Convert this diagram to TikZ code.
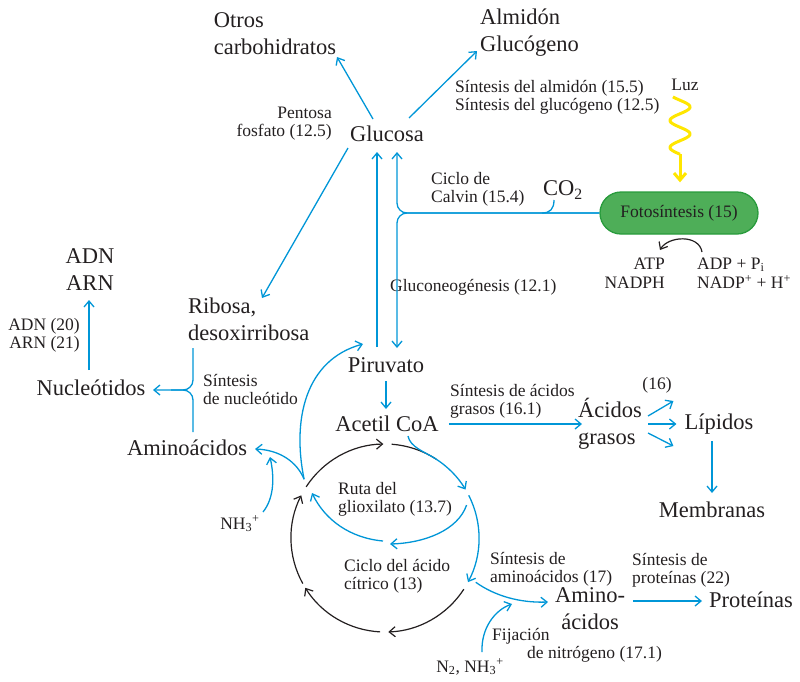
\documentclass[tikz,border=0pt]{standalone}
\usepackage{fontspec}
\setmainfont{Liberation Serif}
\usetikzlibrary{calc,arrows.meta,shapes.misc}
\definecolor{bl}{RGB}{0,150,215}
\definecolor{tx}{RGB}{35,31,32}
\definecolor{yl}{RGB}{255,230,0}
\definecolor{gfill}{RGB}{78,174,88}
\definecolor{glight}{RGB}{165,218,160}
\definecolor{gedge}{RGB}{40,155,60}
\begin{document}
\begin{tikzpicture}[x=1pt,y=-1pt,
  big/.style={font=\fontsize{22.5}{27}\selectfont, inner sep=0pt, text=tx},
  sm/.style={font=\fontsize{17.5}{18}\selectfont, inner sep=0pt, text=tx},
  smw/.style={font=\fontsize{17.5}{19.5}\selectfont, inner sep=0pt, text=tx},
  bar/.style={draw=bl, line width=1.3pt, -{Straight Barb[length=6pt,width=10pt]}},
  bline/.style={draw=bl, line width=1.3pt},
  karc/.style={draw=tx, line width=1.2pt},
  karr/.style={karc, -{Straight Barb[length=6pt,width=10pt]}},
]
\useasboundingbox (0,0) rectangle (800,681);
\coordinate (C) at (385,538);
% nodes
\node[big, align=left] (otros) at (275,34) {Otros\\carbohidratos};
\node[big, align=left, anchor=west] (almidon) at (480,33) {Almidón\\Glucógeno};
\node[sm, align=left, anchor=west] (sintalm) at (455,97) {Síntesis del almidón (15.5)\\Síntesis del glucógeno (12.5)};
\node[sm] (luz) at (685,85) {Luz};
\node[sm, align=right, anchor=east] (pentosa) at (332,124) {Pentosa\\fosfato (12.5)};
\node[big] (gluc) at (387,134) {Glucosa};
\node[sm, align=left, anchor=west] (calvin) at (431,189) {Ciclo de\\Calvin (15.4)};
\node[big] (co2) at (563,190) {CO\textsubscript{2}};
\node[sm, rounded rectangle, minimum width=158pt, minimum height=42pt, draw=gedge, line width=1.3pt, left color=gfill, middle color=glight, right color=gfill] (foto) at (679,213) {Fotosíntesis (15)};
\node[smw, align=right, anchor=east] (atp) at (665,273) {ATP\\NADPH};
\node[smw, align=left, anchor=west] (adp) at (697,273) {ADP + P\textsubscript{i}\\NADP\textsuperscript{+} + H\textsuperscript{+}};
\node[sm, anchor=west] (gneo) at (390,287) {Gluconeogénesis (12.1)};
\node[big, align=center] (adnarn) at (90,270) {ADN\\ARN};
\node[sm, align=right, anchor=east] (adn20) at (80,335) {ADN (20)\\ARN (21)};
\node[big] (nucleo) at (91,388) {Nucleótidos};
\node[big, align=left, anchor=west] (ribosa) at (188,319) {Ribosa,\\desoxirribosa};
\node[sm, align=left, anchor=west] (sintnuc) at (203,389) {Síntesis\\de nucleótido};
\node[big] (aminoL) at (187,448) {Aminoácidos};
\node[sm] (nh3L) at (240,524) {NH\textsubscript{3}\textsuperscript{+}};
\node[big] (piruv) at (386,365) {Piruvato};
\node[big] (acetil) at (387,424) {Acetil CoA};
\node[sm, align=left, anchor=west] (sintac) at (450,401) {Síntesis de ácidos\\grasos (16.1)};
\node[big, align=left, anchor=west] (acidos) at (578,424) {Ácidos\\grasos};
\node[sm] (n16) at (657,385) {(16)};
\node[big] (lipidos) at (719,424) {Lípidos};
\node[big] (membr) at (712,510) {Membranas};
\node[sm, align=left, anchor=west] (ruta) at (338,499) {Ruta del\\glioxilato (13.7)};
\node[sm, align=left, anchor=west] (ciclo) at (344,576) {Ciclo del ácido\\cítrico (13)};
\node[sm, align=left, anchor=west] (sintam) at (490,569) {Síntesis de\\aminoácidos (17)};
\node[big, align=center] (aminoR) at (590,609) {Amino-\\ácidos};
\node[sm, align=left, anchor=west] (sintprot) at (632,570) {Síntesis de\\proteínas (22)};
\node[big] (prot) at (751,600) {Proteínas};
\node[sm, align=left, anchor=west] (fija) at (492,645) {Fijación\\\hspace*{35pt}de nitrógeno (17.1)};
\node[sm] (n2) at (470,667) {N\textsubscript{2}, NH\textsubscript{3}\textsuperscript{+}};
% glucose connectors
\draw[bar] ($(gluc)+(-14,-15)$) -- ($(otros)+(62,23)$);
\draw[bar] ($(gluc)+(22,-16)$) -- ($(almidon.west)+(-3,18)$);
\draw[bar] ($(gluc)+(-39,14)$) -- ($(ribosa.west)+(74,-21)$);
\draw[bar] ($(piruv)+(-9,-18)$) -- ($(gluc)+(-10,18)$);
\draw[bar, rounded corners=10pt] (foto.west) -| ($(gluc)+(10,18)$);
\draw[bar, rounded corners=10pt] (foto.west) -| ($(piruv)+(11,-17)$);
\draw[bline] ($(co2)+(-9,10)$) .. controls +(0,9) and +(8,0) .. ($(co2)+(-21,23)$);
% light
\draw[yl, line width=3pt] plot[domain=-45:720, samples=90] ({680+10*sin(\x)}, {107+(\x-90)*0.075});
\draw[yl, line width=3pt, -{Straight Barb[length=7pt,width=12pt]}] (680,154) -- ($(foto.north)+(1,-9)$);
% ATP
\draw[karr] ($(foto)+(23,39)$) .. controls +(-3,-18) and +(8,-14) .. ($(foto)+(-19,37)$);
% nucleotides
\draw[bar] ($(nucleo)+(-2,-18)$) -- ($(adnarn)+(-1,30)$);
\draw[bar, rounded corners=10pt] ($(ribosa.west)+(5,29)$) |- ($(nucleo)+(62,2)$);
\draw[bline, rounded corners=10pt] ($(aminoL)+(6,-16)$) |- ($(nucleo)+(80,2)$);
% junction
\coordinate (jn) at ($(C)+(144:100pt)$);
\draw[bar] (jn) .. controls (297,462) and (280,450) .. ($(aminoL)+(68,1)$);
\draw[bar] ($(nh3L)+(23,-12)$) .. controls +(12,-15) and +(4,18) .. ($(aminoL)+(83,9)$);
\draw[bar] (jn) .. controls (292,420) and (305,360) .. ($(piruv)+(-23,-21)$);
\draw[bar] ($(piruv)+(0,16)$) -- ($(acetil)+(-1,-15)$);
\draw[bar] ($(acetil.east)+(10,0)$) -- ($(acidos.west)+(4,0)$);
\draw[bar] ($(acidos.west)+(70,-8)$) -- ($(lipidos.west)+(-11,-23)$);
\draw[bar] ($(acidos.west)+(70,0)$) -- ($(lipidos.west)+(-8,0)$);
\draw[bar] ($(acidos.west)+(70,9)$) -- ($(lipidos.west)+(-11,22)$);
\draw[bar] ($(lipidos)+(-7,17)$) -- ($(membr)+(0,-17)$);
\draw[bar] ($(aminoR)+(43,-8)$) -- ($(prot)+(-49,1)$);
\draw[bar] ($(C)+(-26:101pt)$) .. controls (495,596) and (520,603) .. ($(aminoR)+(-42,-7)$);
\draw[bar] ($(n2)+(12,-15)$) .. controls +(-1,-24) and +(-17,6) .. ($(aminoR)+(-78,-5)$);
% citric acid cycle
\draw[karr] ($(C)+(147:94pt)$) arc[start angle=147, end angle=91, radius=94pt];
\draw[karc] ($(C)+(86:94pt)$) arc[start angle=86, end angle=57, radius=94pt];
\draw[bar] ($(acetil)+(21,12)$) .. controls +(2,11) and +(-10.2,-6.4) .. ($(C)+(58:94pt)$) arc[start angle=58, end angle=31, radius=94pt];
\draw[bar] ($(C)+(27:94pt)$) arc[start angle=27, end angle=-28, radius=94pt];
\draw[bar] ($(C)+(22:88pt)$) .. controls (458,530) and (425,543) .. ($(C)+(5,6)$);
\draw[bar] ($(C)+(-2,3)$) .. controls (350,538) and (325,520) .. ($(C)+(-73,-45)$);
\draw[karr] ($(C)+(-33:94pt)$) arc[start angle=-33, end angle=-88, radius=94pt];
\draw[karr] ($(C)+(-93:94pt)$) arc[start angle=-93, end angle=-148, radius=94pt];
\draw[karr] ($(C)+(-151:94pt)$) arc[start angle=209, end angle=153, radius=94pt];
\end{tikzpicture}
\end{document}
